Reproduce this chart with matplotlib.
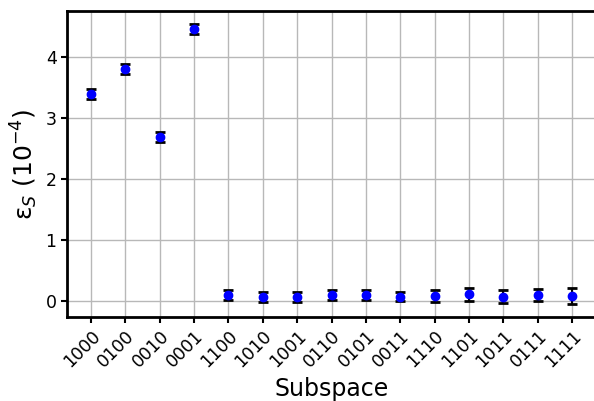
import numpy as np
import matplotlib
matplotlib.use('Agg')
import matplotlib.pyplot as plt

# subspace labels and measured eps_S (units of 1e-4)
subspaces = ['1000', '0100', '0010', '0001', '1100', '1010', '1001', '0110',
             '0101', '0011', '1110', '1101', '1011', '0111', '1111']
eps_vals = [3.39, 3.80, 2.69, 4.45, 0.10, 0.07, 0.07, 0.10,
            0.10, 0.075, 0.08, 0.11, 0.075, 0.10, 0.09]
eps_err = [0.08, 0.08, 0.08, 0.08, 0.08, 0.08, 0.08, 0.08,
           0.08, 0.08, 0.10, 0.10, 0.10, 0.10, 0.13]

plt.rcParams['font.family'] = 'DejaVu Sans'
plt.rcParams['mathtext.fontset'] = 'dejavusans'

fig = plt.figure(figsize=(5.94, 4.01), dpi=100)
ax = fig.add_axes([0.1128, 0.2095, 0.8906, 0.763])

x = np.arange(len(subspaces))
ax.errorbar(x, eps_vals, yerr=eps_err, fmt='o', color='blue', ms=6,
            ecolor='black', elinewidth=1.5, capsize=3.5, capthick=2, zorder=3)

ax.set_xlim(-0.7, 14.7)
ax.set_ylim(-0.26, 4.75)
ax.set_xticks(x)
ax.set_xticklabels(subspaces, rotation=45, ha='right', va='top', rotation_mode='anchor')
ax.set_yticks([0, 1, 2, 3, 4])
ax.tick_params(labelsize=12.5, width=1.5, length=4)
ax.grid(True, color='#b8b8b8', linewidth=1, zorder=0)
ax.set_axisbelow(True)
for s in ax.spines.values():
    s.set_linewidth(2)

ax.set_xlabel('Subspace', fontsize=17)
ax.set_ylabel('ε$_S$ (10$^{-4}$)', fontsize=18)

fig.savefig('out.png', dpi=100)
